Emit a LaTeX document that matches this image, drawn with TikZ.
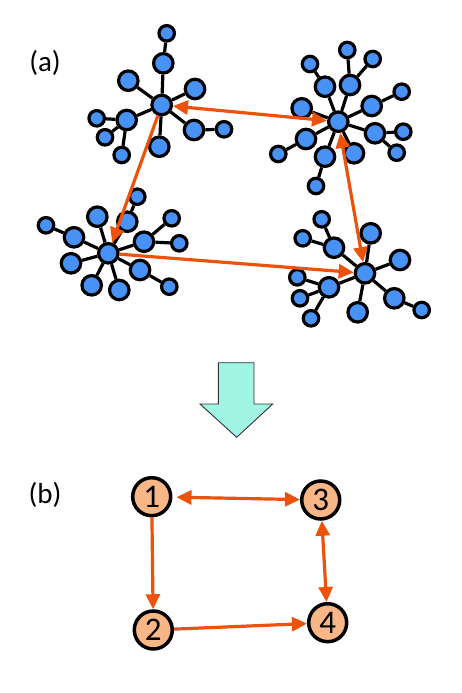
\documentclass[tikz,border=0pt]{standalone}
\usepackage{fontspec}
\setmainfont{Carlito}
\usetikzlibrary{arrows.meta}
\definecolor{nodeblue}{RGB}{72,145,245}
\definecolor{arrorange}{RGB}{236,82,10}
\definecolor{lightorange}{RGB}{249,183,135}
\definecolor{aqua}{RGB}{160,245,228}
\begin{document}
\begin{tikzpicture}[x=1pt,y=-1pt,
  big/.style={circle,draw=black,line width=3.2pt,fill=nodeblue,minimum size=19.5pt,inner sep=0pt},
  small/.style={circle,draw=black,line width=3.2pt,fill=nodeblue,minimum size=15.5pt,inner sep=0pt},
  hub/.style={big},
  link/.style={draw=black,line width=3.2pt},
  oarrow/.style={draw=arrorange,line width=3.2pt,-{Triangle[length=15pt,width=14pt]}},
  obarrow/.style={draw=arrorange,line width=3.2pt,{Triangle[length=15pt,width=14pt]}-{Triangle[length=15pt,width=14pt]}},
  gnode/.style={circle,draw=black,line width=3.5pt,fill=lightorange,minimum size=38pt,inner sep=0pt,font=\fontsize{33}{33}\selectfont},
  lbl/.style={font=\fontsize{29}{29}\selectfont}]
\useasboundingbox (0,0) rectangle (461,693);

\node[lbl] (la) at (45,63) {(a)};
\node[lbl] (lb) at (45,495) {(b)};

% cluster 1
\node[hub] (c1h) at (161.7,105) {};
\node[big] (c1a) at (163.3,63.3) {};
\node[small] (c1b) at (166.7,33.3) {};
\node[big] (c1c) at (128.3,80.7) {};
\node[big] (c1d) at (195,89) {};
\node[big] (c1e) at (126.7,120) {};
\node[small] (c1f) at (96.7,118.3) {};
\node[small] (c1g) at (105,137.3) {};
\node[small] (c1i) at (121.7,155) {};
\node[big] (c1j) at (159.3,146.7) {};
\node[big] (c1k) at (194,130) {};
\node[small] (c1l) at (224,129.3) {};
\foreach \a/\b in {c1h/c1a,c1a/c1b,c1h/c1c,c1h/c1d,c1h/c1e,c1e/c1f,c1e/c1g,c1e/c1i,c1h/c1j,c1h/c1k,c1k/c1l}
  \draw[link] (\a) -- (\b);

% cluster 2
\node[hub] (c2h) at (338.3,121.7) {};
\node[big] (c2a) at (325,86.7) {};
\node[small] (c2b) at (310,64) {};
\node[big] (c2c) at (350,85) {};
\node[small] (c2d) at (347.3,50) {};
\node[small] (c2e) at (372.7,59) {};
\node[big] (c2f) at (371.7,106) {};
\node[small] (c2g) at (401.7,91.7) {};
\node[big] (c2i) at (301.7,108.3) {};
\node[big] (c2j) at (375,133.3) {};
\node[small] (c2k) at (403.3,131.7) {};
\node[small] (c2l) at (396.7,152.7) {};
\node[big] (c2m) at (306,139) {};
\node[small] (c2n) at (278.3,154) {};
\node[big] (c2o) at (325,156.7) {};
\node[small] (c2p) at (316,186) {};
\node[big] (c2q) at (354,153.3) {};
\foreach \a/\b in {c2h/c2a,c2a/c2b,c2h/c2c,c2c/c2d,c2c/c2e,c2h/c2f,c2f/c2g,c2h/c2i,c2h/c2j,c2j/c2k,c2j/c2l,c2h/c2m,c2m/c2n,c2h/c2o,c2o/c2p,c2h/c2q}
  \draw[link] (\a) -- (\b);

% cluster 3
\node[hub] (c3h) at (108.3,253.3) {};
\node[big] (c3a) at (127.3,221.7) {};
\node[small] (c3b) at (137.3,196.7) {};
\node[big] (c3c) at (97.3,216.7) {};
\node[big] (c3d) at (74,237.3) {};
\node[small] (c3e) at (46,225.3) {};
\node[big] (c3f) at (144,241.7) {};
\node[small] (c3g) at (171.7,218.3) {};
\node[small] (c3i) at (179.3,243.3) {};
\node[big] (c3j) at (71,263.3) {};
\node[big] (c3k) at (91.7,285.3) {};
\node[big] (c3l) at (119.3,290) {};
\node[big] (c3m) at (140,270) {};
\node[small] (c3n) at (169.3,286.7) {};
\foreach \a/\b in {c3h/c3a,c3a/c3b,c3h/c3c,c3h/c3d,c3d/c3e,c3h/c3f,c3f/c3g,c3f/c3i,c3h/c3j,c3h/c3k,c3h/c3l,c3h/c3m,c3m/c3n}
  \draw[link] (\a) -- (\b);

% cluster 4
\node[hub] (c4h) at (365,273.3) {};
\node[big] (c4a) at (370.7,233.3) {};
\node[big] (c4b) at (400,260) {};
\node[big] (c4c) at (334,247.7) {};
\node[small] (c4d) at (321.7,219.3) {};
\node[small] (c4e) at (302.7,238.3) {};
\node[big] (c4f) at (329,287.3) {};
\node[small] (c4g) at (297.3,277.3) {};
\node[small] (c4i) at (300,298.3) {};
\node[small] (c4j) at (311,318.3) {};
\node[big] (c4k) at (357.7,312.3) {};
\node[big] (c4l) at (394.3,298.3) {};
\node[small] (c4m) at (421.7,310) {};
\foreach \a/\b in {c4h/c4a,c4h/c4b,c4h/c4c,c4c/c4d,c4c/c4e,c4h/c4f,c4f/c4g,c4f/c4i,c4f/c4j,c4h/c4k,c4h/c4l,c4l/c4m}
  \draw[link] (\a) -- (\b);

% orange arrows between clusters
\draw[obarrow] (c1h) -- (c2h);
\draw[oarrow] (c1h) -- (c3h);
\draw[oarrow] (c3h) -- (c4h);
\draw[obarrow] (c2h) -- (c4h);

% big arrow
\draw[fill=aqua,draw=black!80,line width=0.9pt,line join=miter]
  (218.3,362.7) -- (254,362.7) -- (254,404) -- (272.7,404) -- (236.7,437.3)
  -- (200,404) -- (218.3,404) -- cycle;

% graph (b)
\node[gnode] (g1) at (151.7,496.7) {1};
\node[gnode] (g3) at (320.7,500) {3};
\node[gnode] (g2) at (153.3,630) {2};
\node[gnode] (g4) at (327.7,622.7) {4};
\draw[obarrow,shorten <=4pt] (g1) -- (g3);
\draw[oarrow] (g1) -- (g2);
\draw[oarrow] (g2) -- (g4);
\draw[obarrow] (g3) -- (g4);
\end{tikzpicture}
\end{document}
